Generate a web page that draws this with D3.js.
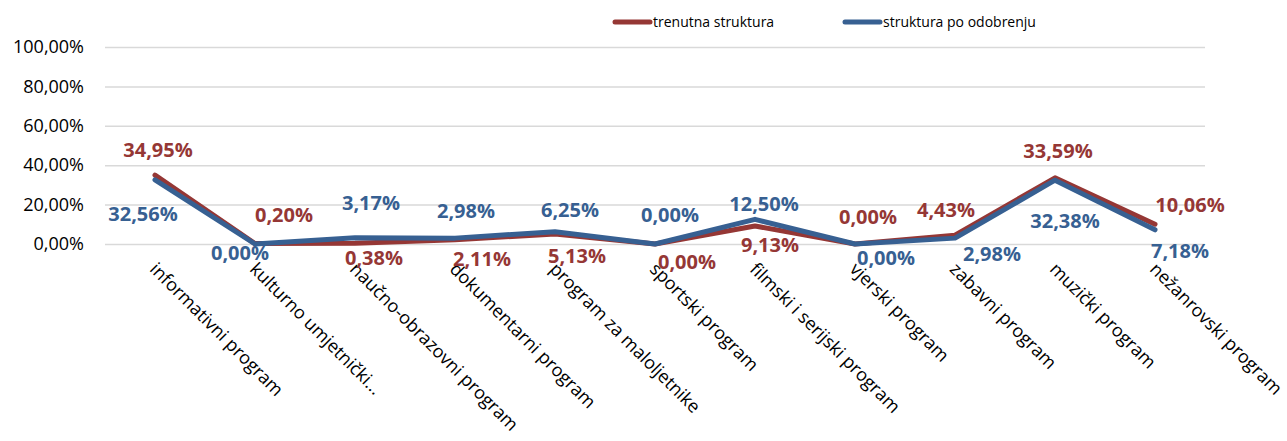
<!DOCTYPE html>
<html>
<head>
<meta charset="utf-8">
<script src="https://cdn.jsdelivr.net/npm/d3@7"></script>
<style>
    body { margin: 0; background: #fff; }
    text { font-family: "Open Sans", "Noto Sans", sans-serif; }
</style>
</head>
<body>
<div id="chart"></div>
<script>
// ---- DATA -----
var categories = ["informativni program", "kulturno umjetnički...", "naučno-obrazovni program",
                  "dokumentarni program", "program za maloljetnike", "sportski program",
                  "filmski i serijski program", "vjerski program", "zabavni program",
                  "muzički program", "nežanrovski program"];
var trenutna = [34.95, 0.20, 0.38, 2.11, 5.13, 0.00, 9.13, 0.00, 4.43, 33.59, 10.06];
var odobrenje = [32.56, 0.00, 3.17, 2.98, 6.25, 0.00, 12.50, 0.00, 2.98, 32.38, 7.18];
var yTicks = [0, 20, 40, 60, 80, 100];
var seriesNames = ["trenutna struktura", "struktura po odobrenju"];

// label nudges (layout only, px from the point)
var redDx = [3, 29, 19, 27, 22, 32, 15, 13, -9, 3, 35],
    redDy = [-25, -29, 15, 19, 22, 18, 19, -27, -25, -27, -19],
    blueDx = [-12, -15, 16, 11, 15, 15, 9, 31, 37, 10, 25],
    blueDy = [34, 9, -35, -27, -22, -29, -16, 14, 16, 41, 21];

window.onload = function () {

    var width = 1287,
        height = 441,
        margin = {left: 105, right: 82, top: 47, bottom: 197},
        red = "#953735",
        blue = "#376092";

    var svg = d3.select("#chart")
                .append("svg")
                .attr("width", width)
                .attr("height", height);

    var locale = d3.formatLocale({decimal: ",", thousands: ".", grouping: [3], currency: ["", ""]}),
        pct = function (v) { return locale.format(".2f")(v) + "%"; };

    var xScale = d3.scaleBand()
                    .domain(categories)
                    .range([margin.left, width - margin.right])
                    .padding(0);
    var cx = function (c) { return xScale(c) + xScale.bandwidth() / 2; };

    var yScale = d3.scaleLinear()
                    .domain([0, 100])
                    .range([height - margin.bottom, margin.top]);

    // gridlines + y labels
    var yAxis = d3.axisLeft(yScale)
                    .tickValues(yTicks)
                    .tickSize(-(width - margin.left - margin.right))
                    .tickPadding(21)
                    .tickFormat(pct);

    var gy = svg.append("g")
        .attr("transform", "translate(" + margin.left + ",0)")
        .call(yAxis);
    gy.select(".domain").remove();
    gy.selectAll(".tick line").attr("stroke", "#d9d9d9").attr("stroke-width", 1.5);
    gy.selectAll(".tick text")
        .attr("fill", "#000")
        .style("font-size", "18px")
        .style("font-family", "'Open Sans', sans-serif");

    // category labels
    svg.append("g").selectAll("text")
        .data(categories)
        .enter()
        .append("text")
            .attr("transform", function (c) { return "translate(" + (cx(c) + 3) + "," + 261 + ") rotate(45)"; })
            .attr("dy", "0.72em")
            .attr("font-size", "18px")
            .attr("fill", "#000")
            .text(function (c) { return c; });

    // lines
    var line = d3.line()
                    .x(function (d, i) { return cx(categories[i]); })
                    .y(function (d) { return yScale(d); });

    svg.append("path")
        .datum(trenutna)
        .attr("fill", "none")
        .attr("stroke", red)
        .attr("stroke-width", 5)
        .attr("stroke-linejoin", "round")
        .attr("stroke-linecap", "round")
        .attr("d", line);

    svg.append("path")
        .datum(odobrenje)
        .attr("fill", "none")
        .attr("stroke", blue)
        .attr("stroke-width", 5)
        .attr("stroke-linejoin", "round")
        .attr("stroke-linecap", "round")
        .attr("d", line);

    // data labels
    var addLabels = function (values, color, dx, dy) {
        svg.append("g").selectAll("text")
            .data(values)
            .enter()
            .append("text")
                .attr("x", function (d, i) { return cx(categories[i]) + dx[i]; })
                .attr("y", function (d, i) { return yScale(d) + dy[i]; })
                .attr("dy", "0.36em")
                .attr("text-anchor", "middle")
                .attr("font-size", "20px")
                .attr("font-weight", "bold")
                .attr("fill", color)
                .text(pct);
    };
    addLabels(trenutna, red, redDx, redDy);
    addLabels(odobrenje, blue, blueDx, blueDy);

    // legend
    var legend = svg.append("g").selectAll("g")
        .data(seriesNames)
        .enter()
        .append("g")
            .attr("transform", function (d, i) { return "translate(" + (615 + i * 230) + ",22)"; });

    legend.append("line")
        .attr("x1", 0).attr("x2", 35)
        .attr("stroke", function (d, i) { return i ? blue : red; })
        .attr("stroke-width", 5)
        .attr("stroke-linecap", "round");

    legend.append("text")
        .attr("x", 38)
        .attr("dy", "0.35em")
        .attr("font-size", "14px")
        .attr("fill", "#000")
        .text(function (d) { return d; });
};
</script>
</body>
</html>
